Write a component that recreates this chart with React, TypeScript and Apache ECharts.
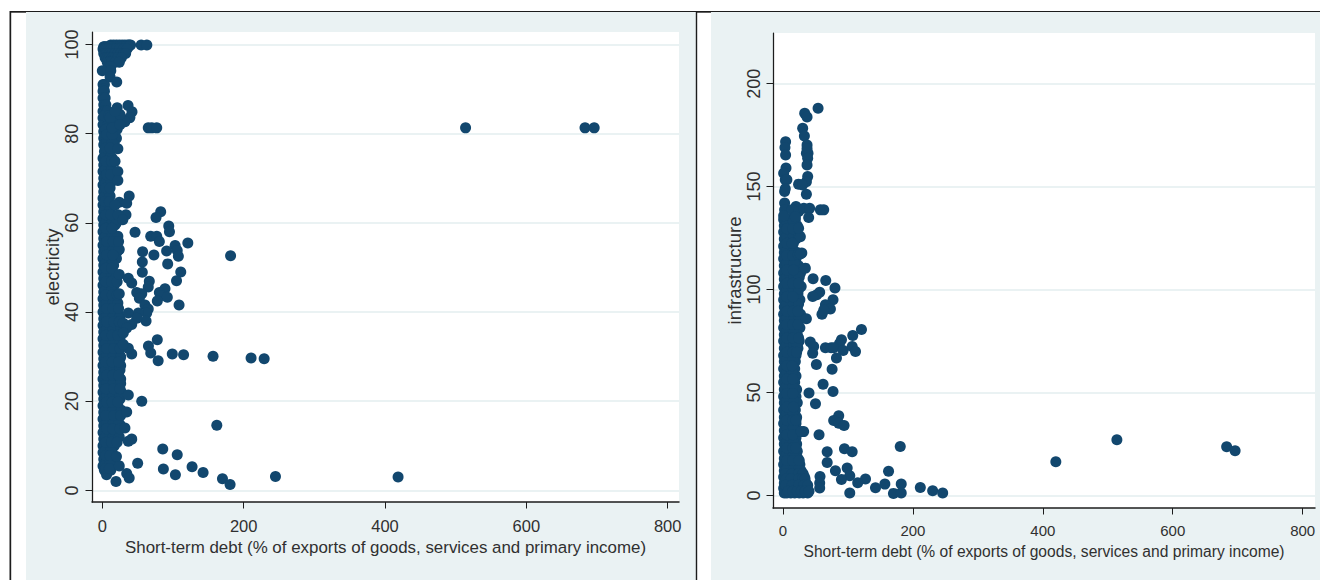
import React, { useEffect, useRef } from "react";
import * as echarts from "echarts";

type Pt = [number, number];
type Row = [number, number[]];

const xTicks = [0, 200, 400, 600, 800];
const electricityTicks = [0, 20, 40, 60, 80, 100];
const infrastructureTicks = [0, 50, 100, 150, 200];
const xTitle = "Short-term debt (% of exports of goods, services and primary income)";

// electricity: dense column, each row is [electricity, debt values]
const electricityRows: Row[] = [
  [99.9, [12, 16, 20, 24, 28, 32, 36, 38, 40]],
  [99.5, [2, 3, 5, 8, 10, 12, 15, 18, 22, 25, 28, 33, 37]],
  [99, [1, 2, 4, 6, 9, 12, 16, 20, 25, 30, 35]],
  [98, [2, 4, 6, 10, 14, 18, 22, 26, 30, 33]],
  [97, [4, 7, 10, 14, 18, 22, 27]],
  [96, [7, 10, 13, 18, 24]],
  [95, [9, 12]],
  [91, [1, 3]], [90, [2]], [89.5, [1, 3]], [88, [1, 4]], [86.5, [2, 5]], [85, [1, 4, 7]],
  [83.5, [1, 6, 12]], [82, [1, 8, 16]], [80.5, [2, 9, 18]], [79, [2, 10, 20]],
  [77.5, [2, 11, 17]], [76, [3, 8]], [74.5, [1, 9, 14]], [73, [2, 10]], [71.5, [1, 9]],
  [70, [2, 10]], [68.5, [1, 8]], [67, [2, 9]], [65.5, [1, 7]], [64, [1, 8]], [62.5, [2, 7]],
  [61, [1, 9, 15]], [59.5, [2, 9, 18]], [58, [1, 10]], [56.5, [2, 10, 20]], [55, [1, 9, 19]],
  [53.5, [2, 11, 21]], [52, [1, 10, 20]], [50.5, [2, 10, 16]], [49, [1, 8, 15]],
  [47.5, [2, 10, 18]], [46, [1, 9, 17]], [44.5, [2, 10, 14]], [43, [1, 9, 19]],
  [41.5, [2, 10, 20]], [40, [1, 11, 19]], [38.5, [2, 10, 22]], [37, [1, 11, 20]],
  [35.5, [2, 10, 22]], [34, [1, 9, 18, 25]], [32.5, [2, 11, 21]], [31, [1, 10, 22]],
  [29.5, [2, 10, 20, 25]], [28, [1, 9, 19, 26]], [26.5, [2, 11, 22]], [25, [1, 10, 20, 26]],
  [23.5, [2, 11, 21]], [22, [1, 10, 20, 27]], [20.5, [2, 9, 19, 25]], [19, [1, 11, 22]],
  [17.5, [2, 10, 20, 25]], [16, [1, 10, 21]], [14.5, [2, 9, 19, 26]], [13, [1, 11, 22]],
  [11.5, [2, 10, 20]], [10, [1, 9, 17]], [8.5, [1, 8, 14]], [7, [2, 8, 18]], [5.5, [1, 6, 13]],
  [4.5, [3, 8, 12]], [3.5, [6]],
];

const electricityFillRows: Row[] = [
  [84, [3, 9]], [81, [5, 13, 21]], [78, [6, 14]], [75, [5, 12]], [72, [5, 13]], [69, [5, 12]],
  [66, [4, 11]], [63, [4, 11]], [60, [5, 13, 20]], [57, [5, 14, 22]], [54, [5, 15, 24]], [51, [5, 14]],
  [48, [5, 13, 20]], [45, [5, 13]], [42, [6, 15, 22]], [39, [6, 15, 25]], [36, [6, 15, 26]], [33, [5, 15, 25]],
  [30, [6, 15, 26]], [27, [5, 16, 25]], [24, [6, 15, 26]], [21, [6, 15, 24]], [18, [5, 15, 27]], [15, [6, 15, 24]],
  [12, [5, 15, 24]], [9, [5, 12]], [6, [5, 11]],
];

const electricityExtraRows: Row[] = [
  [79.8, [6, 14]], [76.8, [5, 11]], [73.8, [5, 13]], [70.8, [6, 12]], [67.8, [5, 11]], [64.8, [4, 10]],
  [61.8, [5, 12]], [58.8, [5, 14]], [55.8, [6, 15, 23]], [52.8, [6, 15]], [49.8, [5, 13]], [46.8, [5, 13, 21]],
  [43.8, [5, 14, 21]], [40.8, [6, 15, 23]], [37.8, [6, 16, 24]], [34.8, [5, 14, 22]], [31.8, [6, 16, 25]],
  [28.8, [5, 14, 23]], [25.8, [6, 15, 23]], [22.8, [5, 16, 25]], [19.8, [6, 14, 22]], [16.8, [5, 16, 26]],
  [13.8, [6, 15, 25]], [10.8, [5, 13, 21]], [7.8, [5, 11]], [4.9, [5, 10]],
];

const electricityUpper: Pt[] = [
  [55, 99.9], [63, 99.9], [0, 94.1], [12, 94.1], [11, 92.7], [20.4, 91.6],
  [21, 85.8], [36.4, 86.3], [42, 84.9], [39, 83.6], [32, 82.7], [18, 83], [25, 84.3], [11, 83.6],
  [14, 81.3], [25, 82], [18, 85], [65, 81.3], [70, 81.3], [77, 81.3], [514, 81.3], [683, 81.3], [696, 81.3],
  [22, 76.6], [18, 73.8], [22, 71.5], [22, 69.5], [38, 66], [24, 64.6], [18, 64], [34.5, 64.4],
  [33.5, 61.8], [22.5, 61.8], [29, 60.7], [82.6, 62.5], [76, 61.2], [94, 59.3], [95, 58],
];

const electricityMiddle: Pt[] = [
  [46.3, 57.9], [68.5, 57], [77, 57], [80.7, 55.8], [121, 55.5], [103, 54.9], [106, 53.8], [107.6, 52.5],
  [57, 53.5], [73, 52.8], [91, 53.7], [56.6, 51.2], [92.5, 50.8], [181.5, 52.6], [56.6, 48.9], [111, 49],
  [105, 47], [66.5, 46.9], [65, 45.6], [24, 48.4], [36.8, 47.6], [41.6, 46.5], [48.7, 44.4], [55.8, 44.1],
  [52.4, 43.1], [88.7, 45.2], [80.7, 44.4], [84, 43.7], [92, 43.3], [77.8, 42.5], [108.6, 41.6], [24, 44.1],
  [60.4, 41.6], [65, 40.7], [62.8, 39.8], [61.9, 38], [51, 39.8], [36.8, 39.8], [48.7, 38.6], [41.6, 37.2],
  [29.7, 37.5], [34.5, 36.4], [29.7, 35.3], [77.8, 33.8], [65.3, 32.4], [68.5, 30.8], [79, 29.1], [99, 30.6],
  [115, 30.4], [156.7, 30.1], [41.6, 30.6], [36.8, 31.9], [29.7, 32.7], [210.5, 29.7], [229, 29.5],
];

const electricityLower: Pt[] = [
  [55.8, 20], [36.8, 21.4], [34.5, 17.6], [32, 14], [41.6, 11.5], [36.8, 11], [162, 14.6], [85.5, 9.3],
  [106, 8], [50, 6.1], [127, 5.3], [86.4, 4.8], [103.4, 3.5], [142.6, 4], [170, 2.6], [180.8, 1.3],
  [245, 3.1], [418.5, 3], [34.5, 3.8], [38, 2.8], [19.4, 2], [24, 5.5], [20, 7.6],
];

// infrastructure: dense column, each row is [infrastructure, debt values]
const infrastructureRows: Row[] = [
  [134, [1, 10, 19]], [131, [2, 12, 22]], [128, [1, 10, 21]], [124.5, [2, 11, 20]], [121, [1, 9, 14]],
  [118, [2, 11, 22]], [115, [1, 10, 20]], [111.5, [2, 12, 24]], [108, [1, 10, 19, 27]], [105, [2, 11, 22]],
  [101.5, [1, 9, 20, 28]], [98, [2, 12, 23]], [95, [1, 10, 20, 26]], [91.5, [2, 11, 22]], [88, [1, 9, 19, 27]],
  [85, [2, 12, 23]], [81.5, [1, 10, 20, 26]], [78, [2, 11, 22]], [75, [1, 9, 19, 25]], [71.5, [2, 12, 23]],
  [68, [1, 10, 20]], [65, [2, 11, 19]], [61.5, [1, 9, 18]], [58, [2, 12, 20]], [55, [1, 10, 18]],
  [51.5, [2, 11, 21]], [48, [1, 9, 20]], [45, [2, 12, 22]], [41.5, [1, 10, 19]], [38, [2, 11, 21]],
  [35, [1, 9, 20]], [31.5, [2, 12, 19]], [28, [1, 10, 20]], [25, [2, 11, 21]], [21.5, [1, 9, 22]],
  [18, [2, 12, 23]], [15, [1, 10, 20, 26]], [12, [2, 11, 21, 28]], [9, [1, 9, 19, 28, 33]],
  [6, [2, 11, 20, 29, 35]], [3.5, [1, 10, 19, 28, 36]], [1.2, [2, 6, 12, 18, 25, 31, 38]],
];

const infrastructureFillRows: Row[] = [
  [133, [6, 16]], [126, [6, 16, 24]], [119, [6, 16]], [113, [6, 17]], [106, [6, 17, 25]], [100, [6, 16, 24]],
  [93, [6, 16, 24]], [86, [6, 17, 25]], [80, [6, 16]], [73, [6, 17, 22]], [66, [6, 15]], [60, [6, 14]],
  [53, [6, 15]], [46, [6, 16]], [40, [6, 15]], [33, [6, 16]], [26, [6, 16]], [20, [6, 16]], [13, [6, 16, 24]],
  [7, [6, 15, 24, 31]],
];

const infrastructureExtraRows: Row[] = [
  [129.5, [6, 15]], [122.5, [6, 16]], [116.5, [6, 15]], [109.5, [6, 16]], [103, [6, 15, 24]], [96.5, [6, 15]],
  [89.5, [6, 15, 23]], [83, [6, 15, 23]], [76.5, [6, 15, 24]], [69.5, [6, 15, 21]], [63, [6, 14]], [56.5, [6, 15]],
  [49.5, [6, 15]], [43, [6, 16]], [36.5, [6, 15, 20]], [29.5, [6, 15]], [23, [6, 15, 20]], [17, [6, 15, 25]],
  [10.5, [4, 14, 24, 31]], [8, [5, 12, 24, 30, 34]], [5, [4, 14, 24, 32, 38]], [2, [8, 15, 22, 28, 34, 40]],
];

const infrastructureUpper: Pt[] = [
  [54, 188], [33.4, 185.6], [37, 183.8], [30.3, 178.3], [32.9, 174.6], [37, 170.2], [38.5, 166.2], [36, 166.2],
  [37, 168.5], [38, 163.8], [37, 160.5], [4, 171.8], [3, 169], [4, 165.4], [4.6, 159], [1, 156.5], [3.5, 153.3],
  [6, 153.3], [2.5, 147.6], [3.5, 149], [38, 154.9], [36, 152.4], [24, 151.2], [30, 150.8], [36, 146.3],
  [2.5, 142], [2.5, 138.7], [1, 135.8], [20, 140.3], [14, 138.7], [24, 137.9], [32, 139.5], [41, 139.5],
  [39.5, 135], [57.5, 138.7], [62.7, 138.7], [26.7, 125.7], [24, 129.8], [29, 117.7], [23, 117], [14, 122.5],
  [19, 135.4], [26.7, 117.3], [34.4, 110.4],
];

const infrastructureMiddle: Pt[] = [
  [46.3, 105.2], [65.8, 104.4], [80, 100.8], [56.5, 98.7], [52, 97.5], [45.7, 96.6], [77, 95], [65.3, 92.6],
  [73, 90.5], [60, 88], [62.7, 90], [36, 85.8], [120.8, 80.6], [107.4, 77.7], [90, 75.6], [87, 73.8], [42, 74.5],
  [47.2, 72.3], [65.3, 71.7], [74, 71.7], [78, 71.7], [92.6, 70.4], [106.5, 72.3], [111.6, 69.9], [45.7, 69.1],
  [82.3, 66.7], [51.4, 63.6], [75.6, 61.3], [61.7, 54], [77, 50.5], [40, 49.7], [50, 44.5],
];

const infrastructureLower: Pt[] = [
  [85.8, 38.7], [78, 36.4], [85.8, 35.1], [94, 34], [31.8, 31], [28, 31], [55.5, 29.5], [94.6, 22.7], [106.5, 21.2],
  [68, 21.2], [68, 16], [98.8, 13.3], [80.7, 12], [162.5, 11.8], [102.8, 9.6], [90, 7.8], [127, 8], [115, 6.2],
  [57, 9.2], [56.5, 6], [56.5, 3.6], [142.4, 3.7], [156.8, 5.5], [102.8, 1.2], [170, 1], [182, 1.2], [182, 5.5],
  [180.5, 23.8], [211.4, 3.9], [230.4, 2.3], [245.8, 1.2], [420, 16.4], [514, 27], [683, 23.6], [696, 21.7],
];

const fromRows = (rows: Row[]): Pt[] => rows.flatMap(([y, xs]) => xs.map((x): Pt => [x, y]));
const electricityData = [
  ...fromRows(electricityRows), ...fromRows(electricityFillRows), ...fromRows(electricityExtraRows),
  ...electricityUpper, ...electricityMiddle, ...electricityLower,
];
const infrastructureData = [
  ...fromRows(infrastructureRows), ...fromRows(infrastructureFillRows), ...fromRows(infrastructureExtraRows),
  ...infrastructureUpper, ...infrastructureMiddle, ...infrastructureLower,
];

const NAVY = "#12476e";
const PANEL = "#eaf2f3";
const INK = "#1c1c1c";
const TEXT = "#303030";
const FONT = "'Liberation Sans', Arial, sans-serif";

const xAxis = (gridIndex: number, min: number, max: number, fontSize: number, nameSize: number, margin: number, gap: number) => ({
  type: "value", gridIndex, min, max,
  name: xTitle, nameLocation: "middle", nameGap: gap,
  nameTextStyle: { fontFamily: FONT, fontSize: nameSize, color: TEXT },
  splitLine: { show: false },
  axisLine: { show: true, onZero: false, lineStyle: { color: INK, width: 1.5 } },
  axisTick: { show: true, length: 6.5, customValues: xTicks, lineStyle: { color: INK, width: 1 } },
  axisLabel: { customValues: xTicks, fontFamily: FONT, fontSize, color: TEXT, margin, formatter: (v: number) => String(v) },
});

const yAxis = (gridIndex: number, min: number, max: number, ticks: number[], name: string, gap: number, margin: number) => ({
  type: "value", gridIndex, min, max,
  name, nameLocation: "middle", nameGap: gap,
  nameTextStyle: { fontFamily: FONT, fontSize: 18.5, color: TEXT },
  splitLine: { show: true, lineStyle: { color: PANEL, width: 2 } },
  axisLine: { show: true, onZero: false, lineStyle: { color: INK, width: 1.25 } },
  axisTick: { show: true, length: 6.5, customValues: ticks, lineStyle: { color: INK, width: 1 } },
  axisLabel: { customValues: ticks, rotate: 90, fontFamily: FONT, fontSize: 18, color: TEXT, margin, formatter: (v: number) => String(v) },
});

const scatter = (i: number, data: Pt[]) => ({
  type: "scatter", xAxisIndex: i, yAxisIndex: i, data,
  symbol: "circle", symbolSize: 11,
  itemStyle: { color: NAVY, opacity: 1 }, silent: true,
});

const rect = (x: number, y: number, width: number, height: number, fill: string) => ({
  type: "rect", z: -10, shape: { x, y, width, height }, style: { fill },
});

export default function App() {
  const ref = useRef<HTMLDivElement>(null);
  useEffect(() => {
    const chart = echarts.init(ref.current!, undefined, { renderer: "svg" });
    chart.setOption({
      animation: false,
      backgroundColor: "#ffffff",
      graphic: [
        rect(26, 12, 670, 568, PANEL),
        rect(711, 12, 609, 568, PANEL),
        rect(10, 11, 1310, 1, INK),
        rect(9.5, 11, 1.7, 569, INK),
        rect(10, 11, 16, 1.7, INK),
        rect(695.8, 11, 1.4, 569, INK),
        rect(696, 11, 15, 1.7, INK),
      ],
      grid: [
        { left: 92, top: 32, width: 587, height: 470, show: true, backgroundColor: "#ffffff", borderWidth: 0 },
        { left: 773, top: 33, width: 542, height: 475, show: true, backgroundColor: "#ffffff", borderWidth: 0 },
      ],
      xAxis: [
        xAxis(0, -14.6, 816, 16.5, 16.9, 15, 35),
        xAxis(1, -15.4, 819, 15, 15.6, 15, 35),
      ],
      yAxis: [
        yAxis(0, -2.6, 102.8, electricityTicks, "electricity", 27, 11),
        yAxis(1, -6.1, 224.6, infrastructureTicks, "infrastructure", 28, 10),
      ],
      series: [scatter(0, electricityData), scatter(1, infrastructureData)],
    });
    return () => chart.dispose();
  }, []);
  return <div ref={ref} style={{ position: "fixed", left: 0, top: 0, width: 1320, height: 580 }} />;
}
